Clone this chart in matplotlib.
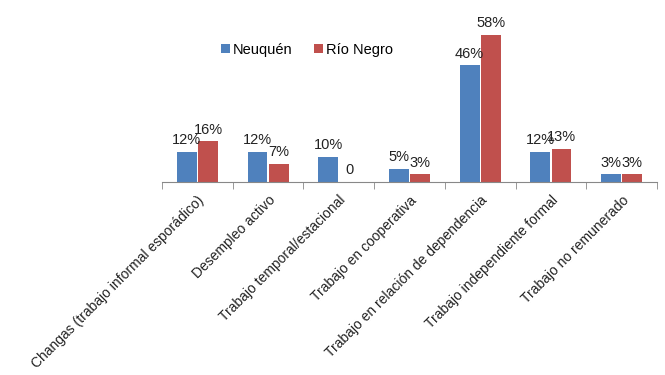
import matplotlib.pyplot as plt
import numpy as np

plt.rcParams['font.family'] = ['Liberation Sans', 'DejaVu Sans']

# Datos
categorias = ['Changas (trabajo informal esporádico)', 'Desempleo activo',
              'Trabajo temporal/estacional', 'Trabajo en cooperativa',
              'Trabajo en relación de dependencia', 'Trabajo independiente formal',
              'Trabajo no remunerado']
neuquen = [12, 12, 10, 5, 46, 12, 3]
rio_negro = [16, 7, 0, 3, 58, 13, 3]

azul = '#4F81BD'
rojo = '#C0504D'

fig = plt.figure(figsize=(6.65, 3.75), dpi=100)
ax = fig.add_axes([162 / 665, 1 - 182 / 375, (657 - 162) / 665, 152 / 375])

x = np.arange(len(categorias))
w = 0.28
b1 = ax.bar(x - w / 2 - 0.01, neuquen, w, color=azul, label='Neuquén')
b2 = ax.bar(x + w / 2 + 0.01, rio_negro, w, color=rojo, label='Río Negro')

# Etiquetas de datos
for barras, vals in ((b1, neuquen), (b2, rio_negro)):
    for rect, v in zip(barras, vals):
        txt = f'{v}%' if v else '0'
        ax.annotate(txt, (rect.get_x() + rect.get_width() / 2, v),
                    xytext=(0, 3.5), textcoords='offset points',
                    ha='center', va='bottom', fontsize=10.5, color='#222222')

ax.set_xlim(-0.5, len(categorias) - 0.5)
ax.set_ylim(0, 60)

for s in ('top', 'right', 'left'):
    ax.spines[s].set_visible(False)
ax.spines['bottom'].set_color('#888888')
ax.set_yticks([])

ax.set_xticks(x)
ax.set_xticklabels(categorias, rotation=45, ha='right', va='top',
                   rotation_mode='anchor', fontsize=10, color='#222222')
ax.tick_params(axis='x', which='major', length=0, pad=8)
ax.set_xticks(np.arange(-0.5, len(categorias)), minor=True)
ax.tick_params(axis='x', which='minor', length=5, color='#888888')

ax.legend(loc='center', bbox_to_anchor=(307 / 665, 1 - 50 / 375),
          bbox_transform=fig.transFigure, ncol=2, frameon=False,
          fontsize=10.5, handlelength=0.6, handleheight=0.6,
          handletextpad=0.2, columnspacing=1.5)

plt.savefig('out.png')
